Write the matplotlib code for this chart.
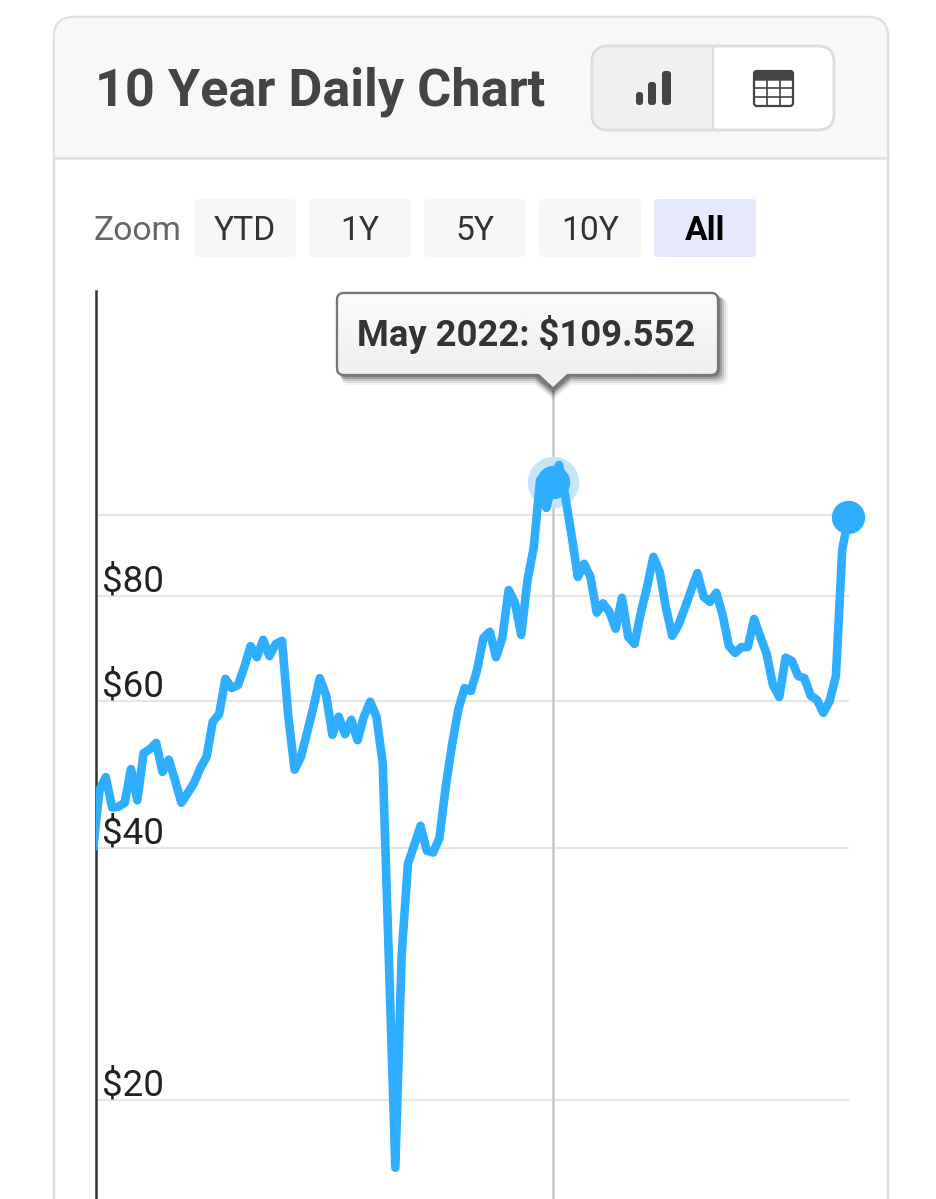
import numpy as np
import matplotlib
matplotlib.use('Agg')
import matplotlib.pyplot as plt
from matplotlib.patches import FancyBboxPatch, Polygon, Rectangle
from matplotlib.transforms import ScaledTranslation

plt.rcParams['font.family'] = ['Roboto', 'DejaVu Sans']

#### monthly prices, log axis
prices = [
    40.0, 46.9, 48.6, 44.7, 44.8, 45.3, 49.7, 45.6, 51.9, 52.5,
    53.4, 49.3, 51.0, 48.2, 45.3, 46.5, 47.8, 49.8, 51.4, 56.6,
    57.8, 63.7, 62.1, 62.6, 65.8, 69.7, 67.6, 70.9, 67.8, 70.1,
    70.7, 57.4, 49.6, 51.4, 55.0, 59.0, 63.8, 60.9, 54.6, 57.4,
    54.7, 56.9, 53.8, 57.4, 59.8, 57.4, 50.5, 29.0, 16.6, 29.8,
    38.3, 40.3, 42.5, 39.7, 39.5, 41.1, 47.3, 53.1, 58.5, 62.1,
    61.6, 65.3, 71.3, 72.5, 67.6, 71.3, 81.3, 78.5, 71.9, 83.6,
    91.5, 110.1, 101.9, 109.552, 114.7, 105.1, 94.6, 84.3, 87.4, 84.3,
    76.4, 78.4, 76.6, 73.1, 79.6, 71.5, 70.1, 76.4, 82.0, 89.1,
    85.5, 77.4, 71.7, 73.9, 77.4, 81.3, 85.2, 79.8, 78.7, 80.7,
    75.9, 69.7, 68.4, 69.5, 69.5, 75.1, 71.5, 68.2, 62.6, 60.6,
    67.5, 66.9, 64.2, 63.8, 60.8, 60.1, 58.0, 59.9, 64.2, 90.8, 99.4,
]
months = np.arange(len(prices))
hover_month = 73

y_ticks = [20, 40, 60, 80, 100]
y_labels = ['$20', '$40', '$60', '$80', '']
zoom_labels = ['YTD', '1Y', '5Y', '10Y', 'All']

title = '10 Year Daily Chart'
tooltip = 'May 2022: $109.552'

BLUE = '#2fadff'
HALO = '#c6e4fa'
GRID = '#e6e6e6'
BORDER = '#e0e0e0'
W, H = 936, 1199


def rbox(ax, x0, y0, x1, y1, r, **kw):
    """rounded box in pixel coords"""
    p = FancyBboxPatch((x0 + r, y0 + r), x1 - x0 - 2*r, y1 - y0 - 2*r,
                       boxstyle='round,pad=%f,rounding_size=%f' % (r, r), **kw)
    ax.add_patch(p)
    return p


fig = plt.figure(figsize=(W/100, H/100), dpi=100, facecolor='white')

#### page furniture, drawn in pixels with y pointing down
ui = fig.add_axes([0, 0, 1, 1], zorder=1)
ui.set_xlim(0, W)
ui.set_ylim(H, 0)
ui.axis('off')

### card and header
rbox(ui, 54, 17, 888, 1300, 20, fc='white', ec=BORDER, lw=1.8)
header = rbox(ui, 55, 18, 887, 200, 19, fc='#f8f8f8', ec='none')
header.set_clip_path(Rectangle((0, 0), W, 158, transform=ui.transData))
ui.plot([54, 888], [158, 158], color=BORDER, lw=1.8)
ui.text(95, 86, title, fontsize=37.6, fontweight='bold', color='#444444',
        va='center_baseline', ha='left')

### chart / table toggle
group = rbox(ui, 592, 46, 834, 130, 16, fc='white', ec='#dddddd', lw=1.8)
left_half = rbox(ui, 593, 47, 760, 129, 15, fc='#f0f0f0', ec='none')
left_half.set_clip_path(Rectangle((0, 0), 713, H, transform=ui.transData))
ui.plot([713, 713], [47, 129], color='#dddddd', lw=1.5)
rbox(ui, 592, 46, 834, 130, 16, fc='none', ec='#dddddd', lw=1.8)

for x0, x1, y0 in [(636, 643, 92), (648, 656, 82), (662, 671, 71)]:
    rbox(ui, x0, y0, x1, 105, 3, fc='#444444', ec='none')

rbox(ui, 754, 71, 793, 106, 3, fc='white', ec='#444444', lw=1.6)
rbox(ui, 754, 71, 793, 80, 2, fc='#444444', ec='#444444', lw=1)
for gx in [767, 780]:
    ui.plot([gx, gx], [80, 106], color='#444444', lw=1.2)
for gy in [88, 97]:
    ui.plot([754, 793], [gy, gy], color='#444444', lw=1.2)

### zoom row
ui.text(94, 228, 'Zoom', fontsize=24.2, color='#666666', va='center_baseline')
for i, lab in enumerate(zoom_labels):
    x0 = 194 + i*115
    active = lab == 'All'
    rbox(ui, x0, 199, x0 + 102, 257, 4, fc='#e6e9fb' if active else '#f7f7f7',
         ec='none')
    ui.text(x0 + 51, 228, lab, fontsize=24.2, ha='center', va='center_baseline',
            color='black' if active else '#333333',
            fontweight='bold' if active else 'normal')

#### chart itself
ax = fig.add_axes([96/W, 0, (849 - 96)/W, (H - 291)/H], zorder=2)
ax.patch.set_alpha(0)
ax.set_yscale('log')
ax.set_xlim(0.44, 120.08)
ax.set_ylim(15.23, 185.1)
for s in ['top', 'right', 'bottom']:
    ax.spines[s].set_visible(False)
ax.spines['left'].set_color('#333333')
ax.spines['left'].set_linewidth(1.8)
ax.set_xticks([])
ax.set_yticks(y_ticks)
ax.set_yticklabels(y_labels)
ax.minorticks_off()
ax.tick_params(axis='y', length=0, pad=-4.5, labelsize=26.5, labelcolor='#222222')
# labels sit on top of their grid line, nudged down a little
nudge = ScaledTranslation(0, -2.5/72, fig.dpi_scale_trans)
for t in ax.get_yticklabels():
    t.set_ha('left')
    t.set_va('bottom')
    t.set_transform(t.get_transform() + nudge)
ax.grid(axis='y', color=GRID, lw=1.6)
ax.set_axisbelow(True)

### crosshair stops under the tooltip
ax.vlines(months[hover_month], 15.23, 141, color='#c8c8c8', lw=1.8, zorder=1.5)

ax.plot(months[hover_month], prices[hover_month], 'o', ms=37, mfc=HALO, mec='none',
        clip_on=False, zorder=2)
ax.plot(months, prices, color=BLUE, lw=6.2, solid_joinstyle='round',
        solid_capstyle='round', zorder=3)
ax.plot(months[hover_month], prices[hover_month], 'o', ms=24, mfc=BLUE, mec='none',
        clip_on=False, zorder=4)
ax.plot(months[-1], prices[-1], 'o', ms=24, mfc=BLUE, mec='none',
        clip_on=False, zorder=4)

#### tooltip, on top of everything
tip = fig.add_axes([0, 0, 1, 1], zorder=3)
tip.set_xlim(0, W)
tip.set_ylim(H, 0)
tip.axis('off')
for off, a in [(10, 0.05), (8, 0.08), (6, 0.12), (4, 0.18), (2, 0.2)]:
    rbox(tip, 337 + off/2, 293 + off/2, 718 + off, 375 + off, 8, fc='black',
         ec='none', alpha=a)
    tip.add_patch(Polygon([(535, 375 + off), (571, 375 + off), (553, 390 + off)],
                          fc='black', ec='none', alpha=a))
box = rbox(tip, 337, 293, 718, 375, 7, fc='#f6f6f6', ec='#777777', lw=1.6)
# fade from near white at the top to light grey at the bottom
shade = tip.imshow(np.linspace(0.985, 0.935, 40).reshape(-1, 1), cmap='gray', vmin=0, vmax=1,
                   extent=(337, 718, 375, 293), aspect='auto', zorder=1.1)
shade.set_clip_path(box)
tip.set_xlim(0, W)
tip.set_ylim(H, 0)
rbox(tip, 337, 293, 718, 375, 7, fc='none', ec='#777777', lw=1.6, zorder=1.2)
tip.add_patch(Polygon([(536, 375), (553, 390), (570, 375)], fc='#777777', ec='none', zorder=1.3))
tip.add_patch(Polygon([(538, 373), (553, 387), (568, 373)], fc='#efefef', ec='none', zorder=1.4))
tip.text(526, 331, tooltip, fontsize=26.2, fontweight='bold', color='#333333',
         ha='center', va='center_baseline', zorder=2)

fig.savefig('out.png', dpi=100)
